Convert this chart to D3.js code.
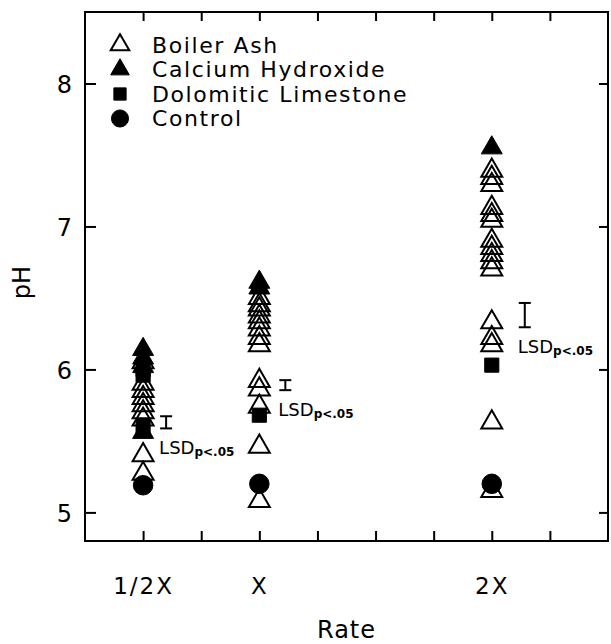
<!DOCTYPE html>
<html>
<head>
<meta charset="utf-8">
<script src="https://cdn.jsdelivr.net/npm/d3@7"></script>
<style>
  body { margin: 0; background: #fff; }
  svg { display: block; }
</style>
</head>
<body>
<svg width="611" height="644"></svg>
<script>
// rates on the x axis (1/2X, X, 2X)
const rateLabels = ["1/2X", "X", "2X"];
const rateValues = [0.5, 1, 2];

// pH readings, one list per rate
const boilerAsh = [
  [6.05, 5.9, 5.85, 5.8, 5.75, 5.7, 5.65, 5.4, 5.27],
  [6.5, 6.45, 6.42, 6.37, 6.33, 6.28, 6.22, 6.17, 5.92, 5.86, 5.74, 5.46, 5.08],
  [7.39, 7.34, 7.29, 7.13, 7.08, 7.04, 6.9, 6.85, 6.8, 6.75, 6.7, 6.33, 6.22, 6.17, 5.63, 5.15],
];
const calciumHydroxide = [
  [6.14, 6.08, 6.02, 5.56],
  [6.61, 6.57],
  [7.55],
];
const dolomiticLimestone = [
  [6.0, 5.96, 5.6],
  [5.68],
  [6.03],
];
const control = [[5.19], [5.2], [5.2]];

// LSD (p<.05) bars: centre and full length in pH units
const lsdCentre = [5.63, 5.89, 6.38];
const lsdLength = [0.085, 0.07, 0.17];
const lsdOffset = [23, 26, 33]; // px right of the column

const yTicks = [5, 6, 7, 8];
const xMinorTicks = [0.5, 0.75, 1, 1.25, 1.5, 1.75, 2, 2.25];

const plotLeft = 85, plotRight = 608, plotTop = 12, plotBottom = 541;
const font = "'DejaVu Sans', sans-serif";

const svg = d3.select("svg").style("font-family", font);

const x = d3.scaleLinear().domain([0.25, 2.5]).range([plotLeft, plotRight]);
const y = d3.scaleLinear().domain([4.8, 8.5]).range([plotBottom, plotTop]);

// --- frame + ticks ---
svg.append("rect")
  .attr("x", plotLeft).attr("y", plotTop)
  .attr("width", plotRight - plotLeft).attr("height", plotBottom - plotTop)
  .attr("fill", "none").attr("stroke", "#000").attr("stroke-width", 2);

function styleAxis(g) {
  g.select(".domain").remove();
  g.selectAll(".tick line").attr("stroke", "#000").attr("stroke-width", 2);
  g.selectAll("text").attr("fill", "#000").style("font-family", font);
}

svg.append("g").attr("transform", `translate(0,${plotBottom})`)
  .call(d3.axisBottom(x).tickValues(xMinorTicks).tickSize(-10).tickFormat(""))
  .call(styleAxis);
svg.append("g").attr("transform", `translate(0,${plotTop})`)
  .call(d3.axisTop(x).tickValues(xMinorTicks).tickSize(-9).tickFormat(""))
  .call(styleAxis);
svg.append("g").attr("transform", `translate(${plotRight},0)`)
  .call(d3.axisRight(y).tickValues(yTicks).tickSize(-9).tickFormat(""))
  .call(styleAxis);

const yAxis = svg.append("g").attr("transform", `translate(${plotLeft},0)`)
  .call(d3.axisLeft(y).tickValues(yTicks).tickSize(-11).tickPadding(13).tickFormat(d3.format("d")))
  .call(styleAxis);
yAxis.selectAll("text").attr("font-size", 24).attr("dy", "0.36em");

// x labels: only the three rates
const xLab = svg.append("g").attr("transform", `translate(0,${plotBottom})`)
  .call(d3.axisBottom(x).tickValues(rateValues).tickSize(0).tickPadding(37)
    .tickFormat((d, i) => rateLabels[i]))
  .call(styleAxis);
xLab.selectAll("text").attr("font-size", 23).attr("letter-spacing", 2);
xLab.selectAll(".tick line").remove();

// axis titles
svg.append("text")
  .attr("x", (plotLeft + plotRight) / 2).attr("y", 638)
  .attr("text-anchor", "middle").attr("font-size", 24).attr("letter-spacing", 1)
  .text("Rate");

svg.append("text")
  .attr("transform", `translate(30,${(plotTop + plotBottom) / 2 + 6}) rotate(-90)`)
  .attr("text-anchor", "middle").attr("font-size", 24)
  .text("pH");

// --- markers ---
const triOpen = d3.symbol(d3.symbolTriangle, 190)();
const triFill = d3.symbol(d3.symbolTriangle, 190)();
const square = d3.symbol(d3.symbolSquare, 200)();
const circle = d3.symbol(d3.symbolCircle, 300)();

function flatten(series) {
  return series.flatMap((vals, i) => vals.map((v) => ({ rate: rateValues[i], ph: v })));
}

const groups = [
  { data: flatten(control), path: circle, fill: "#000" },
  { data: flatten(dolomiticLimestone), path: square, fill: "#000" },
  { data: flatten(boilerAsh), path: triOpen, fill: "none" },
  { data: flatten(calciumHydroxide), path: triFill, fill: "#000" },
];

groups.forEach((grp) => {
  svg.append("g").selectAll("path")
    .data(grp.data)
    .join("path")
    .attr("d", grp.path)
    .attr("transform", (d) => `translate(${x(d.rate)},${y(d.ph)})`)
    .attr("fill", grp.fill)
    .attr("stroke", "#000")
    .attr("stroke-width", grp.fill === "none" ? 2 : 1);
});

// --- LSD bars ---
const lsd = svg.append("g");
rateValues.forEach((r, i) => {
  const cx = x(r) + lsdOffset[i];
  const y1 = y(lsdCentre[i] + lsdLength[i] / 2);
  const y2 = y(lsdCentre[i] - lsdLength[i] / 2);
  const g = lsd.append("g").attr("stroke", "#000").attr("stroke-width", 2);
  g.append("line").attr("x1", cx).attr("x2", cx).attr("y1", y1).attr("y2", y2);
  g.append("line").attr("x1", cx - 6).attr("x2", cx + 6).attr("y1", y1).attr("y2", y1);
  g.append("line").attr("x1", cx - 6).attr("x2", cx + 6).attr("y1", y2).attr("y2", y2);

  const t = lsd.append("text")
    .attr("x", cx - 7).attr("y", y2 + 26)
    .attr("font-size", 18);
  t.append("tspan").text("LSD");
  t.append("tspan").attr("font-size", 12).attr("font-weight", "bold").attr("dy", 2).text("p<.05");
});

// --- legend ---
const legendNames = ["Boiler Ash", "Calcium Hydroxide", "Dolomitic Limestone", "Control"];
const legendMarks = [
  { path: d3.symbol(d3.symbolTriangle, 150)(), fill: "none" },
  { path: d3.symbol(d3.symbolTriangle, 150)(), fill: "#000" },
  { path: d3.symbol(d3.symbolSquare, 150)(), fill: "#000" },
  { path: d3.symbol(d3.symbolCircle, 230)(), fill: "#000" },
];
const legend = svg.append("g");
legendNames.forEach((name, i) => {
  const ly = 45 + i * 24.5;
  legend.append("path")
    .attr("d", legendMarks[i].path)
    .attr("transform", `translate(120,${ly})`)
    .attr("fill", legendMarks[i].fill)
    .attr("stroke", "#000")
    .attr("stroke-width", legendMarks[i].fill === "none" ? 2 : 1);
  legend.append("text")
    .attr("x", 152).attr("y", ly)
    .attr("dy", "0.36em")
    .attr("font-size", 22).attr("letter-spacing", 1.6)
    .text(name);
});
</script>
</body>
</html>
